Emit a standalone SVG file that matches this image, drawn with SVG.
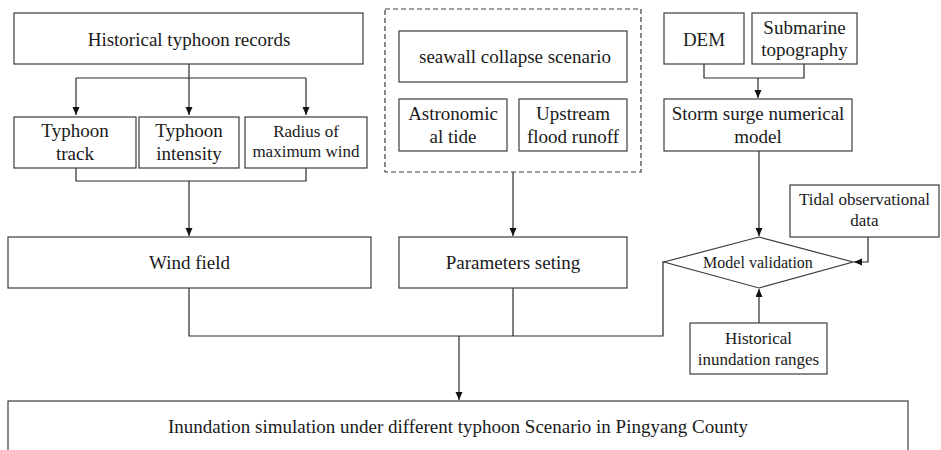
<svg xmlns="http://www.w3.org/2000/svg" width="941" height="450" viewBox="0 0 941 450">
<style>
.box{fill:#fff;stroke:#3c3c3c;stroke-width:1.2}
.dash{fill:none;stroke:#3c3c3c;stroke-width:1.2;stroke-dasharray:5,3}
.t{font-family:"Liberation Serif","Times New Roman",serif;font-size:19px;fill:#1a1a1a;text-anchor:middle}
.s{font-size:17px}
.m{font-size:16px}
.c{fill:none;stroke:#2a2a2a;stroke-width:1.2}
</style>
<defs>
<marker id="ah" markerUnits="userSpaceOnUse" markerWidth="9" markerHeight="8" refX="8" refY="3.5" orient="auto">
<path d="M0,0 L8,3.5 L0,7 z" fill="#111"/>
</marker>
</defs>
<rect width="941" height="450" fill="#fff"/>

<g id="connectors">
<path class="c" d="M189,64 V115" marker-end="url(#ah)"/>
<path class="c" d="M76,78 H306"/>
<path class="c" d="M76,78 V115" marker-end="url(#ah)"/>
<path class="c" d="M306,78 V115" marker-end="url(#ah)"/>
<path class="c" d="M76,168 V181 H306 V168"/>
<path class="c" d="M189,181 V236" marker-end="url(#ah)"/>
<path class="c" d="M513,172 V236" marker-end="url(#ah)"/>
<path class="c" d="M704,64 V78 H804 V64"/>
<path class="c" d="M758,78 V98" marker-end="url(#ah)"/>
<path class="c" d="M759,151 V236" marker-end="url(#ah)"/>
<path class="c" d="M868,237 V262 H854" marker-end="url(#ah)"/>
<path class="c" d="M759,323 V289" marker-end="url(#ah)"/>
<path class="c" d="M189,288 V336 H663 V262 H665"/>
<path class="c" d="M513,288 V336"/>
<path class="c" d="M459,336 V400" marker-end="url(#ah)"/>
</g>

<g id="historical-typhoon-records">
<rect class="box" x="14" y="13" width="349" height="51"/>
<text class="t" x="189" y="45.5">Historical typhoon records</text>
</g>
<g id="typhoon-track">
<rect class="box" x="14" y="117" width="122" height="51"/>
<text class="t" x="75" y="137">Typhoon</text>
<text class="t" x="75" y="160">track</text>
</g>
<g id="typhoon-intensity">
<rect class="box" x="139" y="117" width="100" height="51"/>
<text class="t" x="189" y="137">Typhoon</text>
<text class="t" x="189" y="160">intensity</text>
</g>
<g id="radius-max-wind">
<rect class="box" x="245" y="117" width="122" height="51"/>
<text class="t s" x="306" y="137">Radius of</text>
<text class="t s" x="306" y="157">maximum wind</text>
</g>

<g id="scenario-group">
<rect class="dash" x="385" y="9" width="256" height="163"/>
<g id="seawall-collapse">
<rect class="box" x="399" y="31" width="228" height="51"/>
<text class="t" x="515" y="62.5">seawall collapse scenario</text>
</g>
<g id="astronomical-tide">
<rect class="box" x="399" y="99" width="108" height="52"/>
<text class="t" x="453" y="120">Astronomic</text>
<text class="t" x="453" y="142.5">al tide</text>
</g>
<g id="upstream-flood">
<rect class="box" x="519" y="99" width="108" height="52"/>
<text class="t" x="573" y="120">Upstream</text>
<text class="t" x="573" y="142.5">flood runoff</text>
</g>
</g>

<g id="dem">
<rect class="box" x="664" y="13" width="80" height="51"/>
<text class="t" x="704" y="46">DEM</text>
</g>
<g id="submarine-topography">
<rect class="box" x="752" y="13" width="105" height="51"/>
<text class="t" x="804.5" y="33.5">Submarine</text>
<text class="t" x="804.5" y="56">topography</text>
</g>
<g id="storm-surge-model">
<rect class="box" x="664" y="99" width="188" height="52"/>
<text class="t" x="758" y="120">Storm surge numerical</text>
<text class="t" x="758" y="143">model</text>
</g>
<g id="tidal-data">
<rect class="box" x="790" y="185" width="149" height="52"/>
<text class="t s" x="864.5" y="205">Tidal observational</text>
<text class="t s" x="864.5" y="226">data</text>
</g>

<g id="wind-field">
<rect class="box" x="8" y="237" width="363" height="51"/>
<text class="t" x="189.5" y="268.5">Wind field</text>
</g>
<g id="parameters-seting">
<rect class="box" x="399" y="237" width="228" height="51"/>
<text class="t" x="513" y="268.5">Parameters seting</text>
</g>
<g id="model-validation">
<polygon class="box" points="759,237 853,262 759,288 664,262"/>
<text class="t m" x="758" y="267.5">Model validation</text>
</g>
<g id="historical-inundation">
<rect class="box" x="690" y="323" width="137" height="51"/>
<text class="t s" x="758.5" y="344">Historical</text>
<text class="t s" x="758.5" y="365">inundation ranges</text>
</g>

<g id="inundation-simulation">
<rect class="box" x="8" y="401" width="900" height="60"/>
<text class="t" x="458" y="433">Inundation simulation under different typhoon Scenario in Pingyang County</text>
</g>
</svg>
